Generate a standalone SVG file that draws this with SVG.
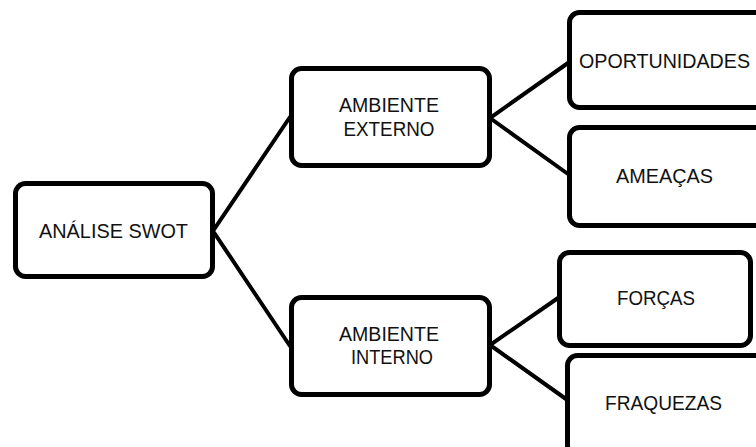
<svg xmlns="http://www.w3.org/2000/svg" width="756" height="447" viewBox="0 0 756 447">
<style>
.box{fill:#fff;stroke:#000;stroke-width:5}
.lbl{font-family:"Liberation Sans","DejaVu Sans",sans-serif;font-size:19.5px;fill:#111;text-anchor:middle}
.con{stroke:#000;stroke-width:4;fill:none;stroke-linecap:round}
</style>
<rect width="756" height="447" fill="#fff"/>
<g id="connectors">
<path class="con" d="M290,117 L213,231 L290,346"/>
<path class="con" d="M568,63 L490,118 L568,174"/>
<path class="con" d="M558,298 L490,345 L566,399"/>
</g>
<g id="swot">
<rect class="box" x="15.5" y="183.5" width="197" height="93" rx="10"/>
<text class="lbl" x="113.5" y="238" textLength="149" lengthAdjust="spacingAndGlyphs">ANÁLISE SWOT</text>
</g>
<g id="externo">
<rect class="box" x="291.5" y="68.5" width="198" height="97" rx="10"/>
<text class="lbl" x="389" y="112" textLength="100" lengthAdjust="spacingAndGlyphs">AMBIENTE</text>
<text class="lbl" x="389" y="136" textLength="91" lengthAdjust="spacingAndGlyphs">EXTERNO</text>
</g>
<g id="interno">
<rect class="box" x="291.5" y="297.5" width="198" height="97" rx="10"/>
<text class="lbl" x="389" y="341" textLength="100" lengthAdjust="spacingAndGlyphs">AMBIENTE</text>
<text class="lbl" x="392" y="364" textLength="82" lengthAdjust="spacingAndGlyphs">INTERNO</text>
</g>
<g id="oportunidades">
<rect class="box" x="569.5" y="12.5" width="200" height="95" rx="10"/>
<text class="lbl" x="664.5" y="68" textLength="171" lengthAdjust="spacingAndGlyphs">OPORTUNIDADES</text>
</g>
<g id="ameacas">
<rect class="box" x="569.5" y="127.5" width="200" height="98" rx="10"/>
<text class="lbl" x="664.5" y="183" textLength="97" lengthAdjust="spacingAndGlyphs">AMEAÇAS</text>
</g>
<g id="forcas">
<rect class="box" x="559.5" y="252.5" width="191" height="93" rx="10"/>
<text class="lbl" x="656" y="305" textLength="78" lengthAdjust="spacingAndGlyphs">FORÇAS</text>
</g>
<g id="fraquezas">
<rect class="box" x="567.5" y="355.5" width="200" height="100" rx="10"/>
<text class="lbl" x="663.5" y="410" textLength="117" lengthAdjust="spacingAndGlyphs">FRAQUEZAS</text>
</g>
</svg>
